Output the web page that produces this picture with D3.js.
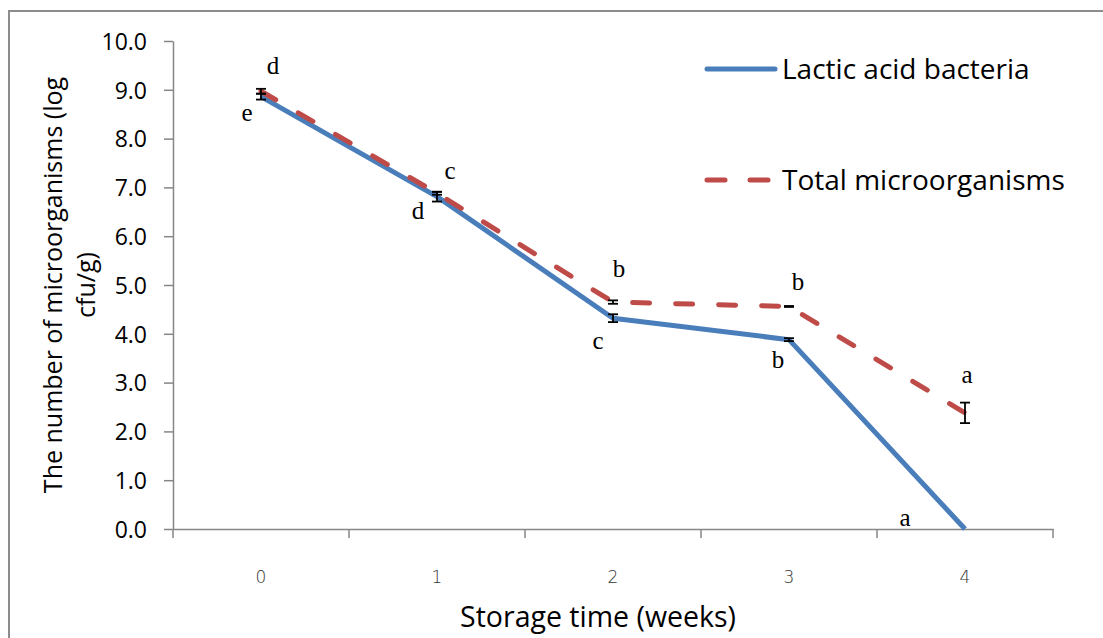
<!DOCTYPE html>
<html>
<head>
<meta charset="utf-8">
<script src="https://cdn.jsdelivr.net/npm/d3@7"></script>
<style>
  html, body { margin: 0; padding: 0; background: #fff; }
  svg { display: block; }
</style>
</head>
<body>
<div id="chart"></div>
<script>
const weeks = ['0', '1', '2', '3', '4']
const labValues = [8.86, 6.81, 4.32, 3.88, 0]
const labErrors = [0.06, 0.1, 0.08, 0.03, 0]
const totalValues = [8.97, 6.88, 4.65, 4.56, 2.38]
const totalErrors = [0.05, 0.03, 0.035, 0.01, 0.21]
const labLetters = ['e', 'd', 'c', 'b', 'a']
const totalLetters = ['d', 'c', 'b', 'b', 'a']
const yTicks = [0, 1, 2, 3, 4, 5, 6, 7, 8, 9, 10]

const WIDTH = 1103
const HEIGHT = 638
const LEFT = 173
const RIGHT = 1053
const TOP = 41
const BOTTOM = 529

const BLUE = '#4A7EBB'
const RED = '#BE4B48'
const AXIS_GREY = '#868686'
const SANS = "'Open Sans', 'Noto Sans', sans-serif"
const SERIF = "'Liberation Serif', 'DejaVu Serif', serif"

const svg = d3.select('#chart').append('svg')
                                .attr('width', WIDTH)
                                .attr('height', HEIGHT)

// outer frame (only left and top edges show in the picture)
svg.append('path')
     .attr('d', `M9,${HEIGHT} L9,11 L${WIDTH},11`)
     .attr('fill', 'none')
     .attr('stroke', '#8c8c8c')
     .attr('stroke-width', 2)

const x = d3.scaleBand().domain(weeks).range([LEFT, RIGHT])
const y = d3.scaleLinear().domain([0, 10]).range([BOTTOM, TOP])
const cx = w => x(w) + x.bandwidth() / 2

// y axis
const yAxis = svg.append('g')
                   .attr('transform', `translate(${LEFT},0)`)
                   .call(d3.axisLeft(y)
                           .tickValues(yTicks)
                           .tickFormat(d3.format('.1f'))
                           .tickSize(9)
                           .tickSizeOuter(0)
                           .tickPadding(17))
yAxis.selectAll('path, line').attr('stroke', AXIS_GREY).attr('stroke-width', 1.5)
yAxis.selectAll('text')
       .attr('font-family', SANS)
       .attr('font-size', 23)
       .attr('fill', '#000')
       .attr('dy', '0.36em')

// x axis: labels at band centres, ticks on band edges
const xAxis = svg.append('g')
                   .attr('transform', `translate(0,${BOTTOM})`)
                   .call(d3.axisBottom(x).tickSize(0).tickSizeOuter(0).tickPadding(42))
xAxis.select('path').attr('stroke', AXIS_GREY).attr('stroke-width', 1.5)
xAxis.selectAll('text')
       .attr('font-family', "'DejaVu Sans', sans-serif")
       .attr('font-size', 17)
       .attr('font-weight', 300)
       .attr('fill', '#333')

const edges = weeks.map(w => x(w)).concat([x(weeks[weeks.length - 1]) + x.bandwidth()])
xAxis.selectAll('line.edge')
       .data(edges)
       .enter()
         .append('line')
         .attr('class', 'edge')
         .attr('x1', d => d)
         .attr('x2', d => d)
         .attr('y1', 0)
         .attr('y2', 9)
         .attr('stroke', AXIS_GREY)
         .attr('stroke-width', 1.5)

// axis titles
svg.append('text')
     .attr('x', 598)
     .attr('y', 627)
     .attr('text-anchor', 'middle')
     .attr('font-family', SANS)
     .attr('font-size', 28.5)
     .text('Storage time (weeks)')

const yTitle = svg.append('text')
                    .attr('transform', `translate(62,${(TOP + BOTTOM) / 2}) rotate(-90)`)
                    .attr('text-anchor', 'middle')
                    .attr('font-family', SANS)
                    .attr('font-size', 25)
yTitle.append('tspan').attr('x', 0).attr('y', 0).text('The number of microorganisms (log')
yTitle.append('tspan').attr('x', 0).attr('y', 33).text('cfu/g)')

// lines
const line = vals => d3.line()
                       .x((d, i) => cx(weeks[i]))
                       .y(d => y(d))(vals)

svg.append('path')
     .attr('d', line(labValues))
     .attr('fill', 'none')
     .attr('stroke', BLUE)
     .attr('stroke-width', 5)
     .attr('stroke-linejoin', 'round')

svg.append('path')
     .attr('d', line(totalValues))
     .attr('fill', 'none')
     .attr('stroke', RED)
     .attr('stroke-width', 5)
     .attr('stroke-linecap', 'round')
     .attr('stroke-dasharray', '17,26')

// error bars
const drawErrors = (vals, errs) => {
  const g = svg.append('g').attr('class', 'errors')
  const each = g.selectAll('g')
                  .data(vals.map((v, i) => ({ v, e: errs[i], w: weeks[i] })).filter(d => d.e > 0))
                  .enter()
                    .append('g')
  each.append('line')
        .attr('x1', d => cx(d.w)).attr('x2', d => cx(d.w))
        .attr('y1', d => y(d.v + d.e)).attr('y2', d => y(d.v - d.e))
  each.append('line')
        .attr('x1', d => cx(d.w) - 5).attr('x2', d => cx(d.w) + 5)
        .attr('y1', d => y(d.v + d.e)).attr('y2', d => y(d.v + d.e))
  each.append('line')
        .attr('x1', d => cx(d.w) - 5).attr('x2', d => cx(d.w) + 5)
        .attr('y1', d => y(d.v - d.e)).attr('y2', d => y(d.v - d.e))
  g.selectAll('line').attr('stroke', '#000').attr('stroke-width', 1.8)
}
drawErrors(labValues, labErrors)
drawErrors(totalValues, totalErrors)

// significance letters, nudged off the points like the hand-placed labels
const totalNudge = [[12, -17], [13, -14], [6, -25], [9, -16], [2, -30]]
const labNudge = [[-14, 24], [-19, 22], [-15, 31], [-11, 28], [-60, -3]]
const drawLetters = (vals, letters, nudge) => {
  svg.append('g').selectAll('text')
       .data(letters)
       .enter()
         .append('text')
         .attr('x', (d, i) => cx(weeks[i]) + nudge[i][0])
         .attr('y', (d, i) => y(vals[i]) + nudge[i][1])
         .attr('text-anchor', 'middle')
         .attr('font-family', SERIF)
         .attr('font-size', 25)
         .text(d => d)
}
drawLetters(totalValues, totalLetters, totalNudge)
drawLetters(labValues, labLetters, labNudge)

// legend
const legend = svg.append('g').attr('class', 'legend')
legend.append('line')
        .attr('x1', 707).attr('x2', 775).attr('y1', 69).attr('y2', 69)
        .attr('stroke', BLUE).attr('stroke-width', 5).attr('stroke-linecap', 'round')
legend.append('line')
        .attr('x1', 707).attr('x2', 769).attr('y1', 180).attr('y2', 180)
        .attr('stroke', RED).attr('stroke-width', 5).attr('stroke-linecap', 'round')
        .attr('stroke-dasharray', '18,25')
legend.append('text')
        .attr('x', 782).attr('y', 79)
        .attr('font-family', SANS).attr('font-size', 28)
        .text('Lactic acid bacteria')
legend.append('text')
        .attr('x', 782).attr('y', 190)
        .attr('font-family', SANS).attr('font-size', 28)
        .text('Total microorganisms')
</script>
</body>
</html>
